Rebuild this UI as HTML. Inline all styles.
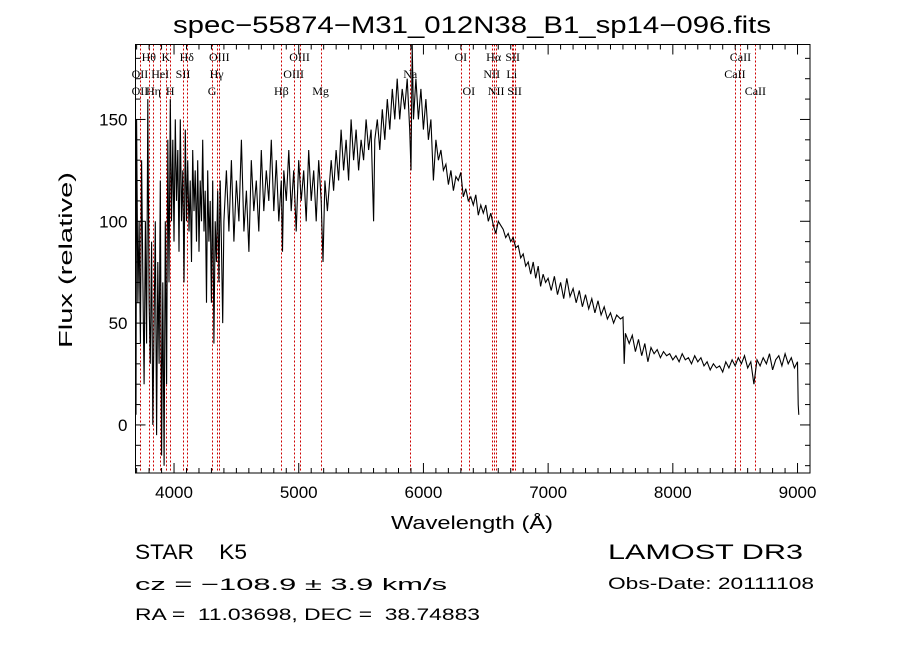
<!DOCTYPE html>
<html><head><meta charset="utf-8"><style>
html,body{margin:0;padding:0;background:#fff;}
svg{display:block;}
text{font-family:"Liberation Sans",sans-serif;fill:#000;white-space:pre;}
</style></head><body>
<svg id="chart" width="900" height="649" viewBox="0 0 900 649" xmlns="http://www.w3.org/2000/svg" xml:space="preserve">
<rect width="900" height="649" fill="#fff"/>
<text x="472" y="33" font-size="24" text-anchor="middle" textLength="598" lengthAdjust="spacingAndGlyphs">spec−55874−M31_012N38_B1_sp14−096.fits</text>
<g id="lines"></g>
<g id="spec"></g>
<g id="axes"></g>
<g id="labels" font-size="12"></g>
<text x="472" y="529" font-size="18" text-anchor="middle" textLength="162" lengthAdjust="spacingAndGlyphs">Wavelength (Å)</text>
<text transform="translate(72,260) rotate(-90)" font-size="18" text-anchor="middle" textLength="176" lengthAdjust="spacingAndGlyphs">Flux (relative)</text>
<text x="135" y="559" font-size="21" textLength="112" lengthAdjust="spacingAndGlyphs">STAR    K5</text>
<text x="608" y="559" font-size="21" textLength="195" lengthAdjust="spacingAndGlyphs">LAMOST DR3</text>
<text x="135" y="590" font-size="17" textLength="312" lengthAdjust="spacingAndGlyphs">cz = −108.9 ± 3.9 km/s</text>
<text x="608" y="589" font-size="17" textLength="206" lengthAdjust="spacingAndGlyphs">Obs-Date: 20111108</text>
<text x="135" y="620" font-size="17" textLength="345" lengthAdjust="spacingAndGlyphs">RA =  11.03698, DEC =  38.74883</text>
</svg>
<script>
const waves=[3695,3700,3710,3720,3730,3740,3750,3760,3770,3780,3790,3800,3810,3820,3830,3840,3850,3860,3870,3880,3890,3900,3910,3920,3930,3940,3950,3960,3970,3980,3990,4000,4010,4020,4030,4040,4050,4060,4070,4080,4090,4100,4110,4120,4130,4140,4150,4160,4170,4180,4190,4200,4210,4220,4230,4240,4250,4260,4270,4280,4290,4300,4310,4320,4330,4340,4350,4360,4370,4380,4390,4400,4420,4440,4460,4480,4500,4520,4540,4560,4580,4600,4620,4640,4660,4680,4700,4720,4740,4760,4780,4800,4820,4840,4860,4870,4880,4900,4920,4940,4960,4980,5000,5020,5040,5060,5080,5100,5120,5140,5160,5180,5195,5210,5230,5260,5280,5300,5320,5340,5360,5380,5400,5420,5440,5460,5480,5500,5520,5540,5560,5580,5600,5610,5630,5650,5670,5690,5710,5730,5750,5770,5790,5810,5830,5850,5870,5890,5900,5910,5920,5940,5960,5980,6000,6020,6040,6060,6080,6100,6120,6140,6160,6180,6200,6220,6240,6260,6280,6300,6320,6340,6360,6380,6400,6420,6440,6460,6480,6500,6520,6540,6560,6580,6600,6620,6640,6660,6680,6700,6720,6740,6760,6780,6800,6820,6840,6860,6880,6900,6920,6940,6960,6980,7000,7025,7050,7075,7100,7125,7150,7175,7200,7225,7250,7275,7300,7325,7350,7375,7400,7425,7450,7475,7500,7525,7550,7580,7600,7610,7620,7650,7675,7700,7725,7750,7775,7800,7825,7850,7875,7900,7925,7950,7975,8000,8025,8050,8075,8100,8125,8150,8175,8200,8225,8250,8275,8300,8325,8350,8375,8400,8425,8450,8475,8500,8525,8550,8575,8600,8625,8650,8675,8700,8725,8750,8775,8800,8825,8850,8875,8900,8925,8950,8975,9000,9005,9010];
const flux=[5,150,60,100,40,130,70,20,100,40,160,60,30,90,0,50,100,-5,80,30,120,-15,70,-20,100,20,140,70,160,100,140,90,150,110,135,85,150,100,125,70,145,100,130,95,120,80,135,105,125,90,130,85,120,100,140,95,115,60,125,90,110,60,120,40,100,80,115,70,120,90,50,100,125,95,130,90,120,100,140,95,115,85,130,105,120,95,135,105,125,110,140,105,130,100,120,85,125,110,135,105,125,95,130,110,125,100,135,110,125,100,130,110,80,120,105,130,115,135,120,145,125,140,120,150,130,145,125,140,130,150,135,145,100,140,150,135,155,140,160,145,165,150,170,150,165,155,170,145,125,187,150,170,150,165,145,160,140,150,120,140,130,135,125,128,118,125,115,122,120,124,112,116,110,112,108,113,103,108,104,108,100,104,98,94,100,98,96,92,94,90,92,87,88,82,84,78,80,74,80,72,78,68,74,70,72,66,73,64,70,62,72,63,67,60,66,58,64,57,62,55,61,54,58,52,55,50,54,52,53,30,45,40,44,36,42,34,40,31,38,35,37,33,36,34,35,32,34,31,35,32,33,30,34,31,33,29,31,27,30,28,29,26,31,28,32,29,33,30,34,28,31,20,32,29,33,30,35,27,32,34,29,35,30,33,28,31,10,5];
const lineWaves=[3727,3798,3835,3889,3934,3969,4072,4102,4305,4341,4363,4861,4959,5007,5175,5894,6300,6364,6548,6563,6583,6708,6716,6731,8498,8542,8662];
const lineLabels=[["Hθ",3798,57],["K",3934,57],["Hδ",4102,57],["OIII",4363,57],["OIII",5007,57],["OI",6300,57],["Hα",6563,57],["SII",6716,57],["CaII",8542,57],
["OII",3727,74],["HeI",3889,74],["SII",4072,74],["Hγ",4341,74],["OIII",4959,74],["Na",5894,74],["NII",6548,74],["Li",6708,74],["CaII",8498,74],
["OII",3727,91],["Hη",3835,91],["H",3969,91],["G",4305,91],["Hβ",4861,91],["Mg",5175,91],["OI",6364,91],["NII",6583,91],["SII",6731,91],["CaII",8662,91]];
const xTicks=[4000,5000,6000,7000,8000,9000];
const yTicks=[0,50,100,150];
const NS="http://www.w3.org/2000/svg";
const L=135.5,R=810,T=44.5,B=473;
const X0=3691,X1=9100,Y0=-23.6,Y1=186.8;
const sx=w=>L+(w-X0)/(X1-X0)*(R-L);
const sy=f=>B-(f-Y0)/(Y1-Y0)*(B-T);
function mk(tag,attrs,parent){const e=document.createElementNS(NS,tag);for(const k in attrs)e.setAttribute(k,attrs[k]);parent.appendChild(e);return e;}
const gl=document.getElementById('lines');
lineWaves.forEach(w=>{const x=Math.round(sx(w))+0.5;
const ln=mk('line',{x1:x,x2:x,y1:T,y2:B,stroke:'#cc0000','stroke-width':1,'stroke-dasharray':'2,2'},gl);

});
const gs=document.getElementById('spec');
let d='';for(let i=0;i<waves.length;i++){d+=(i?'L':'M')+sx(waves[i]).toFixed(1)+','+sy(Math.max(Y0,Math.min(Y1,flux[i]))).toFixed(1);}
const p=mk('path',{d:d,fill:'none',stroke:'#000','stroke-width':1.1},gs);


const ga=document.getElementById('axes');
const fr=mk('rect',{x:L,y:T,width:R-L,height:B-T,fill:'none',stroke:'#000','stroke-width':1},ga);


for(let w=3700;w<=9100;w+=100){const x=sx(w);const len=(w%1000===0)?10:5;
mk('line',{x1:x,x2:x,y1:B,y2:B-len,stroke:'#000'},ga);mk('line',{x1:x,x2:x,y1:T,y2:T+len,stroke:'#000'},ga);}
for(let f=-20;f<=180;f+=10){const y=sy(f);const len=(f%50===0)?10:5;
mk('line',{x1:L,x2:L+len,y1:y,y2:y,stroke:'#000'},ga);mk('line',{x1:R,x2:R-len,y1:y,y2:y,stroke:'#000'},ga);}
xTicks.forEach(v=>{const t=mk('text',{x:sx(v),y:B+25,'font-size':17,'text-anchor':'middle'},ga);t.textContent=v;

});
yTicks.forEach(v=>{const t=mk('text',{x:L-8,y:sy(v)+6,'font-size':17,'text-anchor':'end'},ga);t.textContent=v;

});
const glb=document.getElementById('labels');
lineLabels.forEach(a=>{const t=mk('text',{x:Math.max(L+2,sx(a[1])),y:a[2]+4,'text-anchor':'middle'},glb);t.textContent=a[0];
t.style.fontFamily='"Liberation Serif",serif';

});
</script>
</body></html>
